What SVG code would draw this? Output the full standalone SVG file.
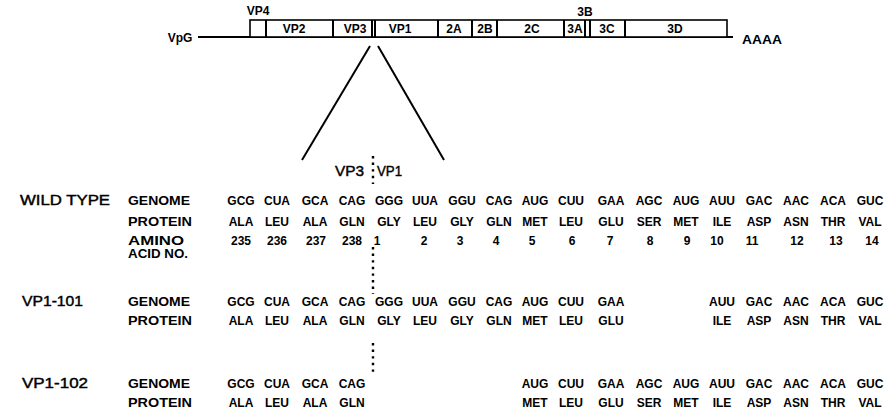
<svg xmlns="http://www.w3.org/2000/svg" width="888" height="414" viewBox="0 0 888 414">
<style>
text{font-family:"Liberation Sans",Arial,sans-serif;fill:#000}
.b{font-weight:bold}
.m{font-size:12px;font-weight:bold;text-anchor:middle}
.c{font-size:12px;font-weight:bold;text-anchor:middle}
.lab{font-size:12px;font-weight:bold}
.big{font-size:15px;stroke:#000;stroke-width:0.45}
.ln{stroke:#000;fill:none;stroke-width:2}
.box{stroke:#000;fill:#fff;stroke-width:1.6}
.dot{stroke:#000;stroke-width:2.4;stroke-dasharray:2.4 4.2;fill:none}
</style>
<g id="genome-map">
<line class="ln" x1="198" y1="37" x2="733" y2="37"/>
<rect class="box" x="250" y="20" width="477" height="17"/>
<g class="ln" stroke-width="1.6">
<line x1="266" y1="20" x2="266" y2="37"/>
<line x1="333" y1="20" x2="333" y2="37"/>
<line x1="372" y1="20" x2="372" y2="37"/>
<line x1="375" y1="20" x2="375" y2="37"/>
<line x1="438" y1="20" x2="438" y2="37"/>
<line x1="472" y1="20" x2="472" y2="37"/>
<line x1="497" y1="20" x2="497" y2="37"/>
<line x1="564" y1="20" x2="564" y2="37"/>
<line x1="585" y1="20" x2="585" y2="37"/>
<line x1="590" y1="20" x2="590" y2="37"/>
<line x1="625" y1="20" x2="625" y2="37"/>
</g>
<text class="c" x="180" y="42">VpG</text>
<text class="c" x="258" y="15">VP4</text>
<text class="c" x="294" y="33">VP2</text>
<text class="c" x="355" y="33">VP3</text>
<text class="c" x="400" y="33">VP1</text>
<text class="c" x="454" y="33">2A</text>
<text class="c" x="485" y="33">2B</text>
<text class="c" x="532" y="33">2C</text>
<text class="c" x="575" y="33">3A</text>
<text class="c" x="585" y="16">3B</text>
<text class="c" x="607" y="33">3C</text>
<text class="c" x="675" y="33">3D</text>
<text class="c" x="762" y="44" textLength="40" lengthAdjust="spacingAndGlyphs">AAAA</text>
</g>
<g id="connectors">
<line class="ln" stroke-width="2.4" x1="370" y1="46" x2="302" y2="160"/>
<line class="ln" stroke-width="2.4" x1="378" y1="46" x2="444" y2="160"/>
<line class="dot" x1="373" y1="156" x2="373" y2="184"/>
<line class="dot" x1="373" y1="247" x2="373" y2="294"/>
<line class="dot" x1="373" y1="343" x2="373" y2="374"/>
</g>
<g id="junction-label">
<text class="big" x="335" y="176" textLength="29" lengthAdjust="spacingAndGlyphs">VP3</text>
<text class="big" x="377" y="176" textLength="25" lengthAdjust="spacingAndGlyphs">VP1</text>
</g>
<g id="wild-type">
<text class="big" x="20" y="205" textLength="90" lengthAdjust="spacingAndGlyphs" stroke-width="0.7">WILD TYPE</text>
<text class="lab" x="128" y="205" textLength="62" lengthAdjust="spacingAndGlyphs">GENOME</text>
<text class="lab" x="128" y="226" textLength="64" lengthAdjust="spacingAndGlyphs">PROTEIN</text>
<text class="lab" x="128" y="245" textLength="56" lengthAdjust="spacingAndGlyphs">AMINO</text>
<text class="lab" x="128" y="258" textLength="60" lengthAdjust="spacingAndGlyphs">ACID NO.</text>
<g class="m">
<text x="241" y="205">GCG</text><text x="277" y="205">CUA</text><text x="315" y="205">GCA</text><text x="352" y="205">CAG</text><text x="389" y="205">GGG</text><text x="425" y="205">UUA</text><text x="462" y="205">GGU</text><text x="499" y="205">CAG</text><text x="535" y="205">AUG</text><text x="571" y="205">CUU</text><text x="611" y="205">GAA</text><text x="649" y="205">AGC</text><text x="686" y="205">AUG</text><text x="722" y="205">AUU</text><text x="759" y="205">GAC</text><text x="796" y="205">AAC</text><text x="833" y="205">ACA</text><text x="870" y="205">GUC</text>
</g>
<g class="m">
<text x="241" y="226">ALA</text><text x="277" y="226">LEU</text><text x="315" y="226">ALA</text><text x="352" y="226">GLN</text><text x="389" y="226">GLY</text><text x="425" y="226">LEU</text><text x="462" y="226">GLY</text><text x="499" y="226">GLN</text><text x="535" y="226">MET</text><text x="571" y="226">LEU</text><text x="611" y="226">GLU</text><text x="649" y="226">SER</text><text x="686" y="226">MET</text><text x="722" y="226">ILE</text><text x="759" y="226">ASP</text><text x="796" y="226">ASN</text><text x="833" y="226">THR</text><text x="870" y="226">VAL</text>
</g>
<g class="m">
<text x="241" y="245">235</text><text x="277" y="245">236</text><text x="316" y="245">237</text><text x="352" y="245">238</text><text x="377" y="245">1</text><text x="424" y="245">2</text><text x="460" y="245">3</text><text x="496" y="245">4</text><text x="532" y="245">5</text><text x="572" y="245">6</text><text x="610" y="245">7</text><text x="650" y="245">8</text><text x="687" y="245">9</text><text x="717" y="245">10</text><text x="752" y="245">11</text><text x="797" y="245">12</text><text x="836" y="245">13</text><text x="872" y="245">14</text>
</g>
</g>
<g id="vp1-101">
<text class="big" x="22" y="306" textLength="61" lengthAdjust="spacingAndGlyphs">VP1-101</text>
<text class="lab" x="128" y="306" textLength="62" lengthAdjust="spacingAndGlyphs">GENOME</text>
<text class="lab" x="128" y="325" textLength="64" lengthAdjust="spacingAndGlyphs">PROTEIN</text>
<g class="m">
<text x="241" y="306">GCG</text><text x="277" y="306">CUA</text><text x="315" y="306">GCA</text><text x="352" y="306">CAG</text><text x="389" y="306">GGG</text><text x="425" y="306">UUA</text><text x="462" y="306">GGU</text><text x="499" y="306">CAG</text><text x="535" y="306">AUG</text><text x="571" y="306">CUU</text><text x="611" y="306">GAA</text><text x="722" y="306">AUU</text><text x="759" y="306">GAC</text><text x="796" y="306">AAC</text><text x="833" y="306">ACA</text><text x="870" y="306">GUC</text>
</g>
<g class="m">
<text x="241" y="325">ALA</text><text x="277" y="325">LEU</text><text x="315" y="325">ALA</text><text x="352" y="325">GLN</text><text x="389" y="325">GLY</text><text x="425" y="325">LEU</text><text x="462" y="325">GLY</text><text x="499" y="325">GLN</text><text x="535" y="325">MET</text><text x="571" y="325">LEU</text><text x="611" y="325">GLU</text><text x="722" y="325">ILE</text><text x="759" y="325">ASP</text><text x="796" y="325">ASN</text><text x="833" y="325">THR</text><text x="870" y="325">VAL</text>
</g>
</g>
<g id="vp1-102">
<text class="big" x="22" y="388" textLength="66" lengthAdjust="spacingAndGlyphs">VP1-102</text>
<text class="lab" x="128" y="388" textLength="62" lengthAdjust="spacingAndGlyphs">GENOME</text>
<text class="lab" x="128" y="407" textLength="64" lengthAdjust="spacingAndGlyphs">PROTEIN</text>
<g class="m">
<text x="241" y="388">GCG</text><text x="277" y="388">CUA</text><text x="315" y="388">GCA</text><text x="352" y="388">CAG</text><text x="535" y="388">AUG</text><text x="571" y="388">CUU</text><text x="611" y="388">GAA</text><text x="649" y="388">AGC</text><text x="686" y="388">AUG</text><text x="722" y="388">AUU</text><text x="759" y="388">GAC</text><text x="796" y="388">AAC</text><text x="833" y="388">ACA</text><text x="870" y="388">GUC</text>
</g>
<g class="m">
<text x="241" y="407">ALA</text><text x="277" y="407">LEU</text><text x="315" y="407">ALA</text><text x="352" y="407">GLN</text><text x="535" y="407">MET</text><text x="571" y="407">LEU</text><text x="611" y="407">GLU</text><text x="649" y="407">SER</text><text x="686" y="407">MET</text><text x="722" y="407">ILE</text><text x="759" y="407">ASP</text><text x="796" y="407">ASN</text><text x="833" y="407">THR</text><text x="870" y="407">VAL</text>
</g>
</g>
</svg>
